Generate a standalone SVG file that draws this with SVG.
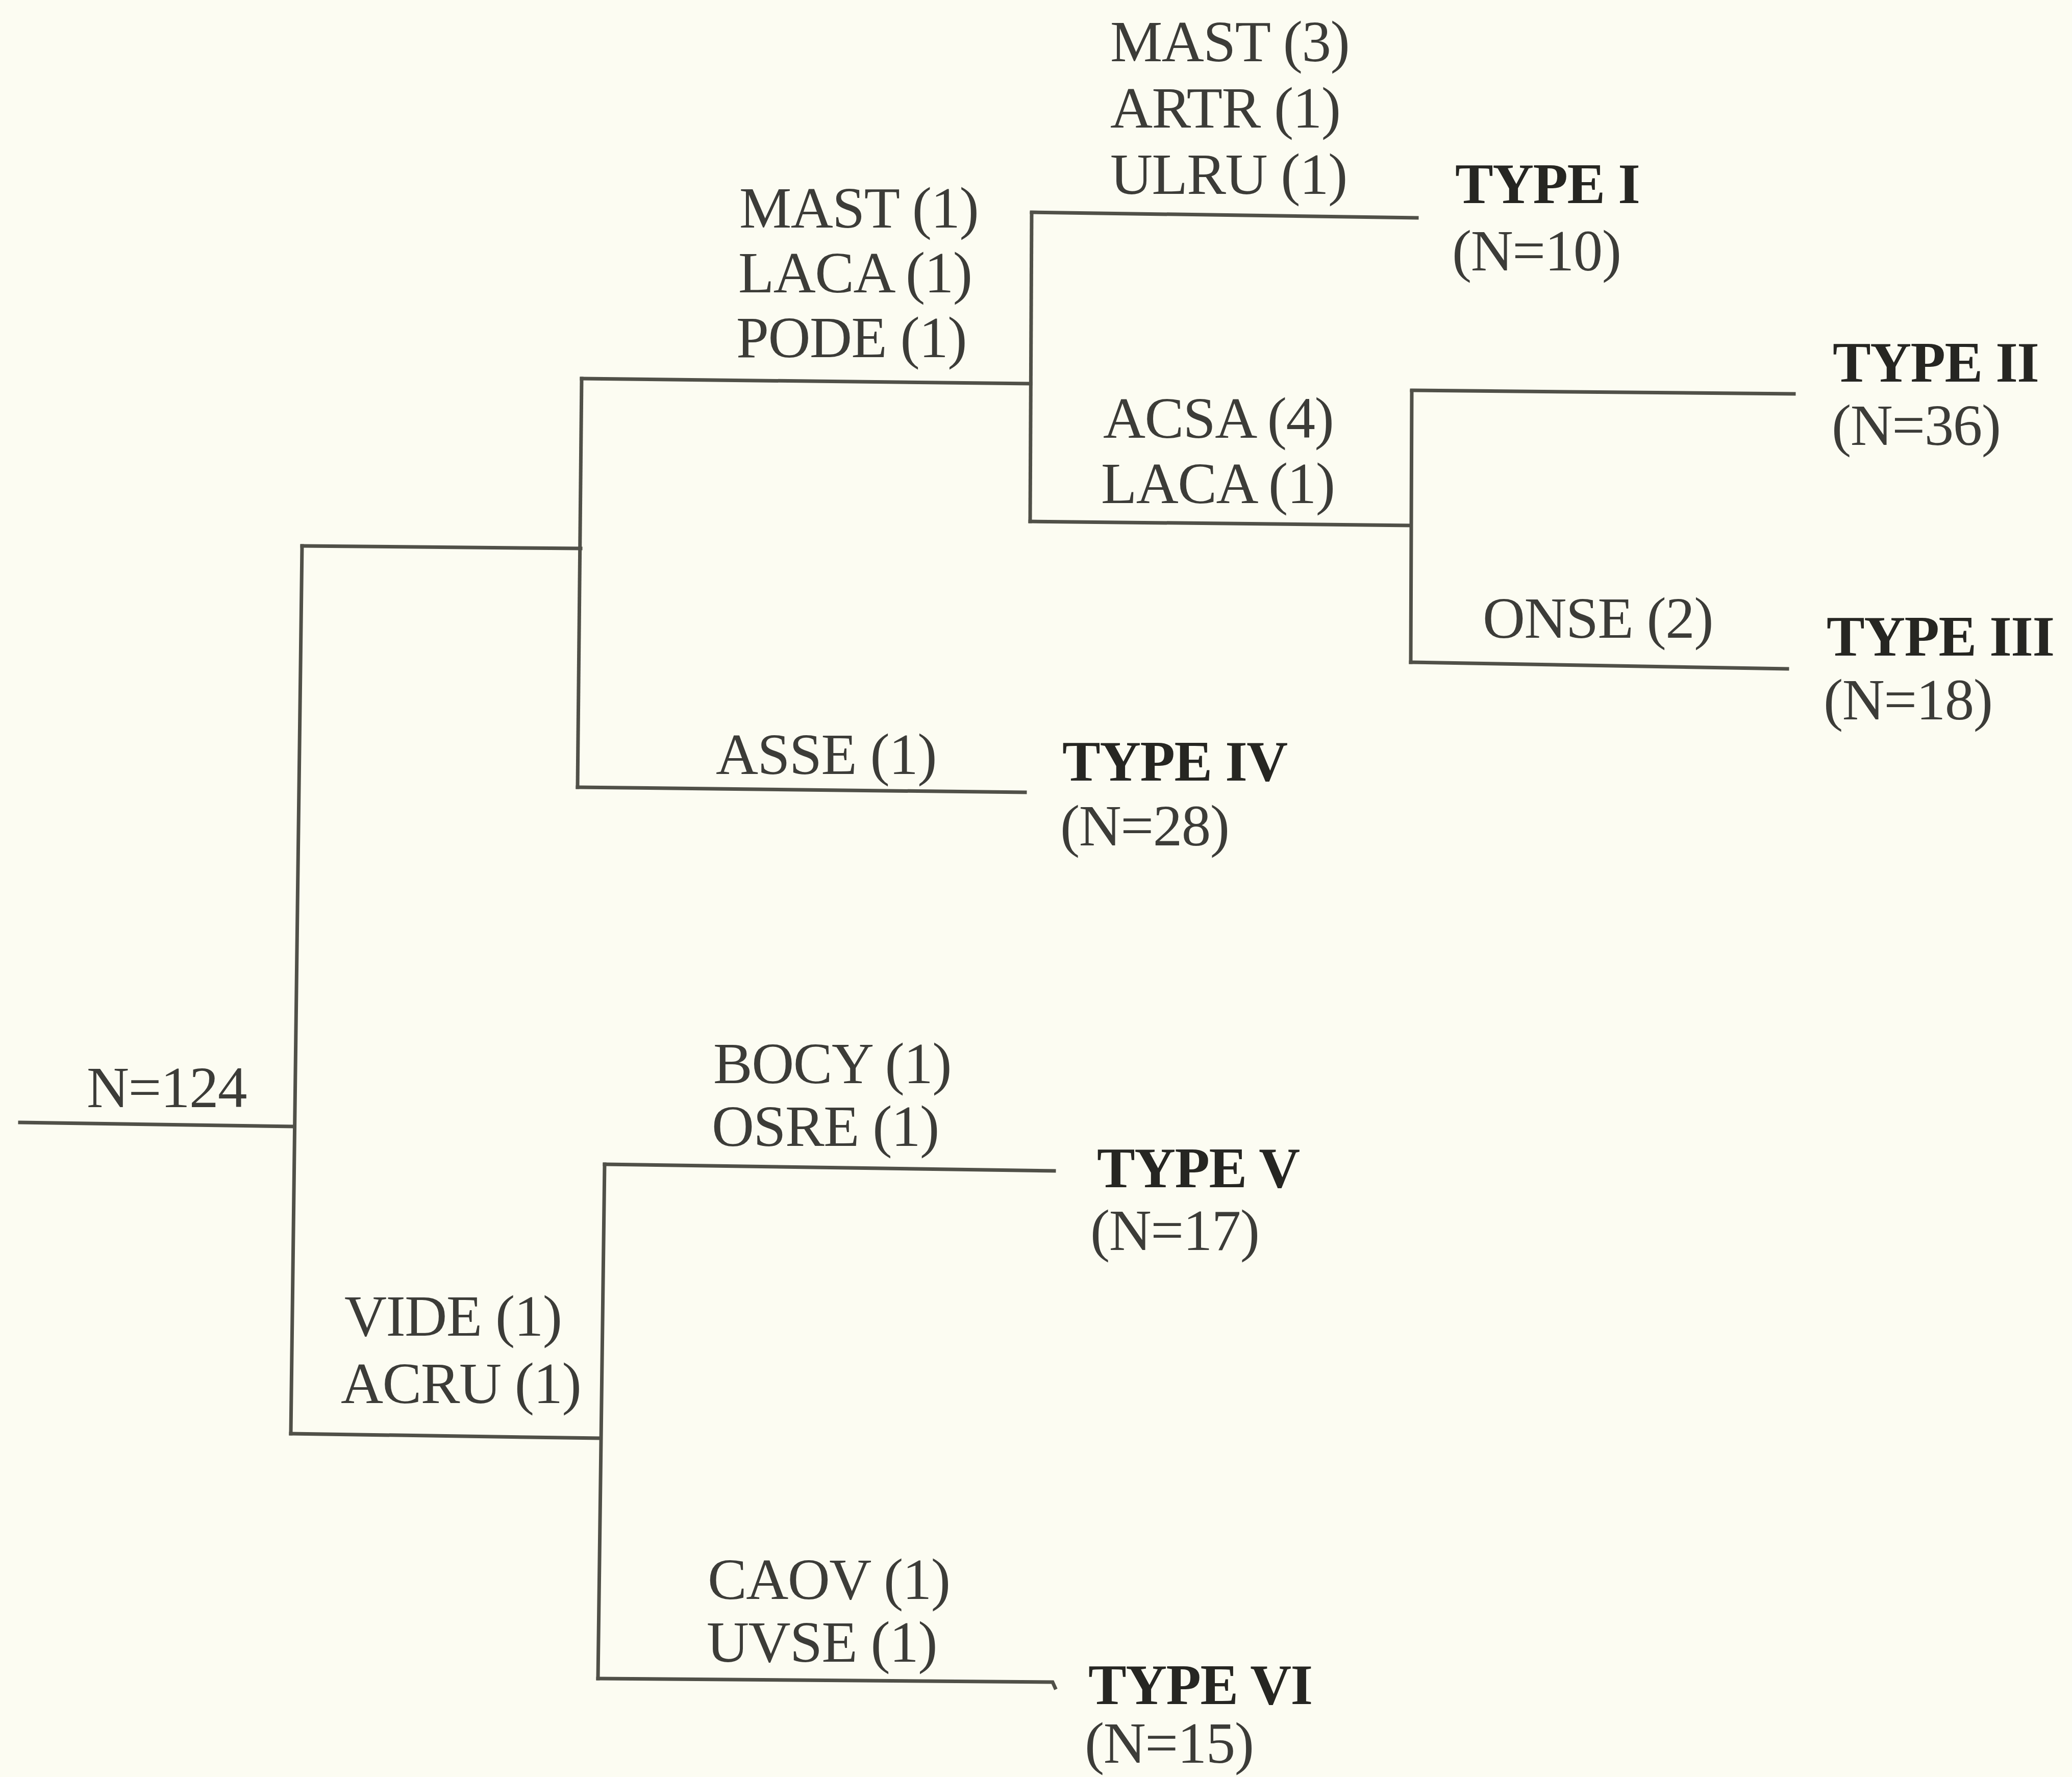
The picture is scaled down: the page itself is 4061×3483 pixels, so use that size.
<svg xmlns="http://www.w3.org/2000/svg" width="4061" height="3483" viewBox="0 0 4061 3483">
<style>
.bg{fill:#fcfcf2}
.ln{fill:none;stroke:#505048;stroke-width:7;stroke-linecap:square;stroke-linejoin:miter}
.t{font-family:"Liberation Serif","Times New Roman",serif;font-size:115px;letter-spacing:-1.5px;fill:#3c3c38}
.b{font-family:"Liberation Serif","Times New Roman",serif;font-size:112px;letter-spacing:-1.5px;font-weight:bold;fill:#262622}
</style>
<rect class="bg" x="0" y="0" width="4061" height="3483"/>
<g id="connectors">
<polyline class="ln" points="39,2200 574,2208"/>
<polyline class="ln" points="592,1070 570,2810"/>
<polyline class="ln" points="592,1070 1138,1075"/>
<polyline class="ln" points="1140,742 1132,1543"/>
<polyline class="ln" points="1132,1543 2009,1553"/>
<polyline class="ln" points="1140,742 2020,752"/>
<polyline class="ln" points="2022,418 2019,1022"/>
<polyline class="ln" points="2022,416 2777,427"/>
<polyline class="ln" points="2019,1022 2765,1030"/>
<polyline class="ln" points="2767,767 2765,1298"/>
<polyline class="ln" points="2767,765 3516,772"/>
<polyline class="ln" points="2765,1298 3503,1311"/>
<polyline class="ln" points="570,2810 1175,2819"/>
<polyline class="ln" points="1185,2282 1172,3290"/>
<polyline class="ln" points="1185,2282 2066,2295"/>
<polyline class="ln" points="1172,3290 2063,3297 2068,3308"/>
</g>
<g id="root"><text class="t" x="170" y="2170">N=124</text></g>
<g id="split-top-left"><text class="t" x="1449" y="446">MAST (1)</text><text class="t" x="1447" y="573">LACA (1)</text><text class="t" x="1443" y="700">PODE (1)</text></g>
<g id="split-type1"><text class="t" x="2176" y="120">MAST (3)</text><text class="t" x="2176" y="250">ARTR (1)</text><text class="t" x="2176" y="380">ULRU (1)</text></g>
<g id="type1"><text class="b" x="2852" y="398">TYPE I</text><text class="t" x="2846" y="530">(N=10)</text></g>
<g id="split-acsa"><text class="t" x="2162" y="858">ACSA (4)</text><text class="t" x="2158" y="986">LACA (1)</text></g>
<g id="type2"><text class="b" x="3592" y="748">TYPE II</text><text class="t" x="3590" y="872">(N=36)</text></g>
<g id="split-onse"><text class="t" x="2906" y="1250">ONSE (2)</text></g>
<g id="type3"><text class="b" x="3580" y="1285">TYPE III</text><text class="t" x="3574" y="1410">(N=18)</text></g>
<g id="split-asse"><text class="t" x="1403" y="1517">ASSE (1)</text></g>
<g id="type4"><text class="b" x="2082" y="1530">TYPE IV</text><text class="t" x="2078" y="1657">(N=28)</text></g>
<g id="split-vide"><text class="t" x="675" y="2618">VIDE (1)</text><text class="t" x="668" y="2750">ACRU (1)</text></g>
<g id="split-bocy"><text class="t" x="1398" y="2123">BOCY (1)</text><text class="t" x="1395" y="2246">OSRE (1)</text></g>
<g id="type5"><text class="b" x="2150" y="2327">TYPE V</text><text class="t" x="2137" y="2450">(N=17)</text></g>
<g id="split-caov"><text class="t" x="1387" y="3134">CAOV (1)</text><text class="t" x="1385" y="3257">UVSE (1)</text></g>
<g id="type6"><text class="b" x="2133" y="3340">TYPE VI</text><text class="t" x="2126" y="3455">(N=15)</text></g>
</svg>
